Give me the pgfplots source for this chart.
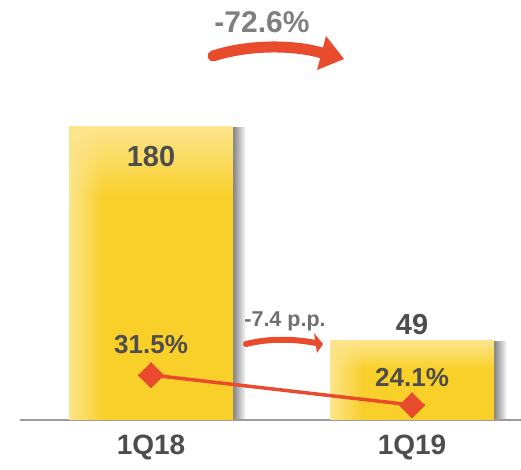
\documentclass[border=0pt]{standalone}
\usepackage{pgfplots}
\pgfplotsset{compat=1.18}
\usetikzlibrary{fadings}
\usepackage{fontspec}
\setmainfont{Liberation Sans}
\definecolor{baryellow}{HTML}{F9CF29}
\definecolor{barlight}{HTML}{FCE58C}
\definecolor{arrowred}{HTML}{E84C2C}
\definecolor{darktext}{HTML}{4D4D4D}
\definecolor{graytext}{HTML}{7F7F7F}
\definecolor{smalltext}{HTML}{707070}
\definecolor{baseline}{HTML}{9C9C9C}
\definecolor{shadowgray}{HTML}{787878}
\pgfdeclareverticalshading{topshadeA}{100bp}{color(0bp)=(baryellow); color(63bp)=(baryellow); color(75bp)=(barlight); color(100bp)=(barlight)}
\pgfdeclareverticalshading{topshadeB}{100bp}{color(0bp)=(baryellow); color(57bp)=(baryellow); color(75bp)=(barlight); color(100bp)=(barlight)}
\pgfdeclarehorizontalshading{shadowshade}{100bp}{color(0bp)=(shadowgray); color(25bp)=(shadowgray); color(75bp)=(white); color(100bp)=(white)}
\tikzfading[name=stripfade, left color=transparent!0, right color=transparent!100]
\begin{document}
\begin{tikzpicture}[x=1pt,y=1pt]
\path[use as bounding box] (0,0) rectangle (521,470);
\pgfplotsset{base/.style={at={(20pt,50pt)}, anchor=south west, scale only axis,
  width=501pt, height=420pt, xmin=-0.502, xmax=1.4176, clip=false}}
% shadow
\begin{axis}[base, hide axis, ymin=0, ymax=258]
\addplot[ybar, bar width=14pt, bar shift=88pt, draw=none, shade, shading=shadowshade]
  coordinates {(0,179.5)};
\addplot[ybar, bar width=14pt, bar shift=88pt, draw=none, shade, shading=shadowshade]
  coordinates {(1,48.5)};
\end{axis}
% bars
\begin{axis}[base, ymin=0, ymax=258, ybar, bar width=164pt, bar shift=0pt,
  axis x line*=bottom, axis y line=none, ytick=\empty,
  axis line style={draw=baseline, line width=2pt, -},
  xtick={0,1}, xticklabels={1Q18,1Q19}, major tick length=0pt,
  xticklabel style={font=\fontsize{28}{30}\selectfont\bfseries, text=darktext, yshift=-11pt}]
\addplot[draw=none, shade, shading=topshadeA] coordinates {(0,180)};
\addplot[draw=none, shade, shading=topshadeB] coordinates {(1,49)};
\addplot[draw=none, fill=barlight, bar width=34pt, bar shift=-65pt, path fading=stripfade] coordinates {(0,180)};
\addplot[draw=none, fill=barlight, bar width=34pt, bar shift=-65pt, path fading=stripfade] coordinates {(1,49)};
\node[font=\fontsize{29}{30}\selectfont\bfseries, text=darktext] at (axis cs:0,161.6) {180};
\node[font=\fontsize{29}{30}\selectfont\bfseries, text=darktext] at (axis cs:1,58.4) {49};
\end{axis}
% line on secondary axis
\begin{axis}[base, hide axis, ymin=20.4, ymax=124.0]
\addplot[arrowred, line width=3.5pt, mark=square*, mark size=9pt,
  mark options={rotate=45, line width=0pt, fill=arrowred}] coordinates {(0,31.5) (1,24.1)};
\node[font=\fontsize{26}{28}\selectfont\bfseries, text=darktext] at (axis cs:0,38.9) {31.5\%};
\node[font=\fontsize{26}{28}\selectfont\bfseries, text=darktext] at (axis cs:1,30.8) {24.1\%};
\end{axis}
% annotations
\node[font=\fontsize{30}{32}\selectfont\bfseries, text=graytext] at (262,448) {-72.6\%};
\draw[arrowred, line width=11pt, line cap=round] (213,414) .. controls (250,426) and (295,425) .. (322,417);
\fill[arrowred] (326,434) -- (344,411) -- (317,400) -- cycle;
\node[font=\fontsize{21.5}{23}\selectfont\bfseries, text=smalltext] at (285,149) {-7.4 p.p.};
\draw[arrowred, line width=6pt, line cap=round] (246,126) .. controls (270,132) and (295,131) .. (316,127);
\fill[arrowred] (314,137) -- (323,126) -- (317,117) -- cycle;
\end{tikzpicture}
\end{document}
